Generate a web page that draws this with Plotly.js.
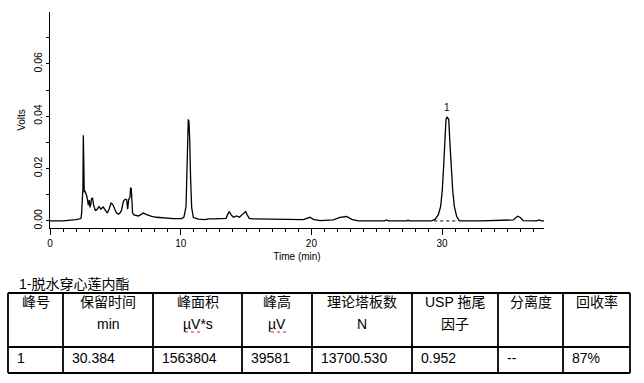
<!DOCTYPE html>
<html>
<head>
<meta charset="utf-8">
<script src="https://cdn.plot.ly/plotly-3.0.1.min.js"></script>
<style>html,body{margin:0;padding:0;background:#fff}#chart{width:644px;height:383px}</style>
</head>
<body>
<div id="chart"></div>
<script>
// ---- chromatogram data (time in min, signal in volts) ----
const timeMin = [0, 1.0, 2.0, 2.2, 2.37, 2.42, 2.47, 2.52, 2.55, 2.58, 2.62, 2.68, 2.75, 2.81, 2.87, 2.93, 2.97, 3.01, 3.06, 3.11, 3.18, 3.26, 3.33, 3.39, 3.47, 3.57, 3.66, 3.75, 3.82, 3.88, 3.97, 4.08, 4.16, 4.23, 4.39, 4.52, 4.67, 4.76, 4.85, 4.98, 5.10, 5.25, 5.38, 5.48, 5.61, 5.74, 5.87, 5.94, 6.02, 6.12, 6.17, 6.22, 6.27, 6.32, 6.43, 6.76, 7.01, 7.14, 7.40, 7.78, 8.16, 8.93, 9.43, 10.07, 10.25, 10.41, 10.46, 10.53, 10.58, 10.63, 10.69, 10.76, 10.84, 10.97, 11.35, 11.86, 12.11, 12.6, 13.26, 13.47, 13.6, 13.72, 13.85, 14.03, 14.28, 14.49, 14.75, 14.97, 15.1, 15.25, 15.56, 16.83, 18.11, 19.38, 19.7, 19.89, 20.15, 20.66, 21.68, 22.19, 22.70, 23.08, 23.59, 25.6, 25.76, 25.9, 27.3, 27.4, 27.5, 29.2, 29.46, 29.71, 29.89, 30.02, 30.12, 30.22, 30.30, 30.38, 30.45, 30.51, 30.60, 30.70, 30.81, 30.94, 31.12, 31.32, 33.0, 35.45, 35.62, 35.78, 35.96, 36.21, 37.24, 37.44, 37.6, 37.8];
const volts = [0, 0, 0.0005, 0.0006, 0.0009, 0.0030, 0.0119, 0.0125, 0.0327, 0.0118, 0.0112, 0.0113, 0.0106, 0.0096, 0.0080, 0.0060, 0.0072, 0.0080, 0.0052, 0.0060, 0.0085, 0.0087, 0.0062, 0.0049, 0.0040, 0.0042, 0.0050, 0.0055, 0.0050, 0.0045, 0.0049, 0.0053, 0.0046, 0.0040, 0.0030, 0.0045, 0.0068, 0.0065, 0.0058, 0.0042, 0.0030, 0.0026, 0.0032, 0.0042, 0.0074, 0.0083, 0.0081, 0.0045, 0.0081, 0.0091, 0.0128, 0.0122, 0.0081, 0.0030, 0.0023, 0.0019, 0.0026, 0.0030, 0.0024, 0.0017, 0.0014, 0.0010, 0.0009, 0.0009, 0.0015, 0.0055, 0.0158, 0.0310, 0.0388, 0.0380, 0.0310, 0.0158, 0.0051, 0.0013, 0.0007, 0.0005, 0.0008, 0.0008, 0.0008, 0.0010, 0.0025, 0.0036, 0.0024, 0.0014, 0.0019, 0.0014, 0.0026, 0.0036, 0.0022, 0.0010, 0.0008, 0.0006, 0.0006, 0.0005, 0.0009, 0.0014, 0.0006, 0.0001, 0.0004, 0.0014, 0.0017, 0.0006, 0, 0, 0.0004, 0, 0, 0.0003, 0, 0, 0.0006, 0.0023, 0.0055, 0.0119, 0.0209, 0.0299, 0.0388, 0.0396, 0.0392, 0.0388, 0.0299, 0.0209, 0.0119, 0.0055, 0.0017, 0, 0, 0.0004, 0.0012, 0.0018, 0.0014, 0.0001, 0, 0.0004, 0, 0];

// integration baseline under peak 1
const baselineTime = [29.4, 31.2];
const baselineVolts = [0, 0];

// peak labels
const peakNames = ['1'];
const peakTimes = [30.384];
const peakHeights = [0.039581];

// ---- results table ----
const tableTitle = '1-脱水穿心莲内酯';
const headerLine1 = ['峰号', '保留时间', '峰面积', '峰高', '理论塔板数', 'USP 拖尾', '分离度', '回收率'];
const headerLine2 = ['', 'min', 'µV*s', 'µV', 'N', '因子', '', ''];
const rowValues = ['1', '30.384', '1563804', '39581', '13700.530', '0.952', '--', '87%'];

// ---- layout geometry (pixels) ----
const W = 644, H = 383;
const M = {l: 50, r: 100, t: 12, b: 155};
const PW = W - M.l - M.r, PH = H - M.t - M.b;
const px = x => (x - M.l) / PW;
const py = y => (H - M.b - y) / PH;
const colEdges = [8, 63, 153, 242, 312, 412, 498, 563, 630];
const tableTop = 293, headerBottom = 347, tableBottom = 373;
const yHead1 = 302, yHead2 = 324, yRow = 358;

const FONT = '"Liberation Sans", Arial, "Noto Sans CJK SC", sans-serif';
const TFONT = {family: FONT, size: 14, color: '#000'};

const shapes = [];
const annotations = [];

// table borders
const hl = (y) => shapes.push({type: 'line', xref: 'paper', yref: 'paper', x0: px(colEdges[0]), x1: px(colEdges[colEdges.length - 1]), y0: py(y), y1: py(y), line: {color: '#000', width: 1.8}});
[tableTop, headerBottom, tableBottom].forEach(hl);
colEdges.forEach(x => shapes.push({type: 'line', xref: 'paper', yref: 'paper', x0: px(x), x1: px(x), y0: py(tableTop), y1: py(tableBottom), line: {color: '#000', width: 1.8}}));

// table text
annotations.push({xref: 'paper', yref: 'paper', x: px(17), y: py(284), xanchor: 'left', yanchor: 'middle', text: tableTitle, showarrow: false, font: TFONT});
for (let i = 0; i < headerLine1.length; i++) {
  const cx = (colEdges[i] + colEdges[i + 1]) / 2;
  annotations.push({xref: 'paper', yref: 'paper', x: px(cx), y: py(yHead1), xanchor: 'center', yanchor: 'middle', text: headerLine1[i], showarrow: false, font: TFONT});
  if (headerLine2[i]) annotations.push({xref: 'paper', yref: 'paper', x: px(cx), y: py(yHead2), xanchor: 'center', yanchor: 'middle', text: headerLine2[i], showarrow: false, font: TFONT});
  annotations.push({xref: 'paper', yref: 'paper', x: px(colEdges[i] + 7), y: py(yRow), xanchor: 'left', yanchor: 'middle', text: rowValues[i], showarrow: false, font: TFONT});
}
// spell-check squiggles under unit cells
[[185, 203], [271, 286]].forEach(([a, b]) => shapes.push({type: 'line', xref: 'paper', yref: 'paper', x0: px(a), x1: px(b), y0: py(332), y1: py(332), line: {color: '#e02020', width: 1, dash: 'dot'}}));

// peak labels
peakNames.forEach((n, i) => annotations.push({x: peakTimes[i], y: peakHeights[i], xref: 'x', yref: 'y', text: n, showarrow: false, yanchor: 'bottom', yshift: 2, font: {family: FONT, size: 10, color: '#000'}}));

const traces = [
  {x: timeMin, y: volts, type: 'scatter', mode: 'lines', line: {color: '#000', width: 1.3}, hoverinfo: 'skip'},
  {x: baselineTime, y: baselineVolts, type: 'scatter', mode: 'lines', line: {color: '#000', width: 1, dash: '3px,3px'}, hoverinfo: 'skip'}
];

const layout = {
  width: W, height: H,
  margin: M,
  paper_bgcolor: '#fff', plot_bgcolor: '#fff',
  showlegend: false,
  font: {family: FONT, size: 10, color: '#000'},
  xaxis: {
    range: [0, 37.8], showgrid: false, zeroline: false, showline: true, linecolor: '#000', linewidth: 1.3,
    ticks: 'outside', ticklen: 6, tickwidth: 1, tickcolor: '#000', tick0: 0, dtick: 10,
    minor: {dtick: 1, ticks: 'outside', ticklen: 3, tickcolor: '#000', showgrid: false},
    tickfont: {family: FONT, size: 10, color: '#000'},
    title: {text: 'Time (min)', font: {family: FONT, size: 10, color: '#000'}, standoff: 4}
  },
  yaxis: {
    range: [-0.0027, 0.0798], showgrid: false, zeroline: false, showline: true, linecolor: '#000', linewidth: 1.3,
    ticks: 'outside', ticklen: 3, tickwidth: 1, tickcolor: '#000', tick0: 0, dtick: 0.02, tickformat: '.2f', tickangle: -90,
    minor: {dtick: 0.01, ticks: 'outside', ticklen: 3, tickcolor: '#000', showgrid: false},
    tickfont: {family: FONT, size: 10.5, color: '#000'},
    title: {text: 'Volts', font: {family: FONT, size: 10, color: '#000'}, standoff: 4}
  },
  shapes: shapes,
  annotations: annotations
};

Plotly.newPlot('chart', traces, layout, {staticPlot: true, displayModeBar: false});
</script>
</body>
</html>
